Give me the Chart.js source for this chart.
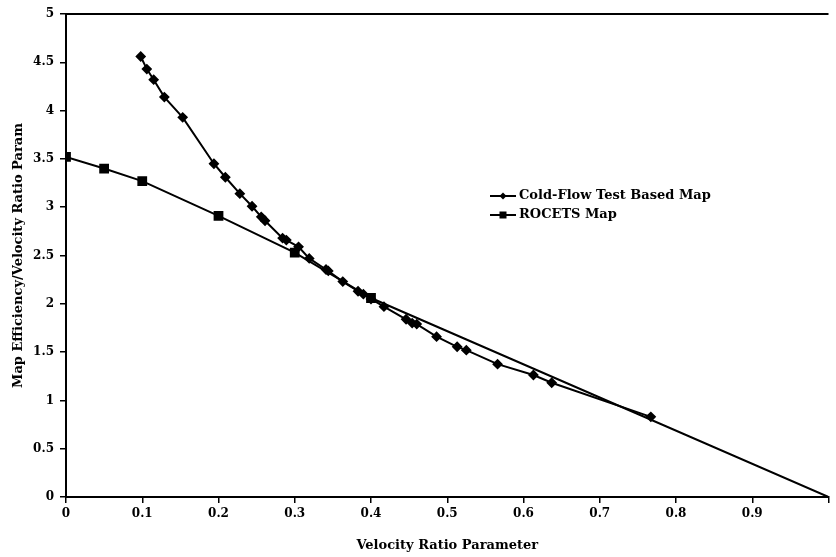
<!DOCTYPE html>
<html>
<head>
<meta charset="utf-8">
<script src="https://cdn.jsdelivr.net/npm/chart.js@4/dist/chart.umd.min.js"></script>
<style>
  html, body { margin: 0; padding: 0; background: #fff; }
  #wrap { width: 836px; height: 557px; }
</style>
</head>
<body>
<div id="wrap"><canvas id="mapChart"></canvas></div>
<script>
// Cold-Flow Test Based Map (velocity ratio, efficiency/VR)
const coldFlowX = [0.098, 0.106, 0.115, 0.129, 0.153, 0.194, 0.209, 0.228, 0.244, 0.256,
                   0.261, 0.284, 0.289, 0.305, 0.319, 0.341, 0.344, 0.363, 0.383, 0.390,
                   0.400, 0.417, 0.446, 0.454, 0.460, 0.486, 0.513, 0.525, 0.566, 0.613,
                   0.637, 0.767];
const coldFlowY = [4.56, 4.43, 4.32, 4.14, 3.93, 3.45, 3.31, 3.14, 3.01, 2.90,
                   2.86, 2.68, 2.66, 2.59, 2.47, 2.355, 2.34, 2.23, 2.13, 2.10,
                   2.05, 1.97, 1.84, 1.80, 1.79, 1.66, 1.555, 1.52, 1.375, 1.263,
                   1.183, 0.83];

// ROCETS Map
const rocetsX = [0, 0.05, 0.1, 0.2, 0.3, 0.4, 1.0];
const rocetsY = [3.52, 3.40, 3.27, 2.91, 2.53, 2.06, 0];

const xTicks = [0, 0.1, 0.2, 0.3, 0.4, 0.5, 0.6, 0.7, 0.8, 0.9];
const yTicks = [0, 0.5, 1, 1.5, 2, 2.5, 3, 3.5, 4, 4.5, 5];

const seriesLabels = ['Cold-Flow Test Based Map', 'ROCETS Map'];

const serif = "'DejaVu Serif', 'Liberation Serif', serif";

const toPoints = (xs, ys) => xs.map((x, i) => ({ x: x, y: ys[i] }));

// top frame line + legend drawn inside the plot
const frameLegend = {
    id: 'frameLegend',
    afterDraw(chart) {
        const { ctx, chartArea } = chart;
        ctx.save();
        ctx.strokeStyle = '#000';
        ctx.lineWidth = 2;
        ctx.beginPath();
        ctx.moveTo(chartArea.left, chartArea.top);
        ctx.lineTo(chartArea.right, chartArea.top);
        ctx.stroke();

        const rows = [196, 215];
        chart.data.datasets.forEach((ds, i) => {
            const y = rows[i];
            ctx.strokeStyle = '#000';
            ctx.lineWidth = 2;
            ctx.beginPath();
            ctx.moveTo(490, y);
            ctx.lineTo(516, y);
            ctx.stroke();
            ctx.fillStyle = '#000';
            ctx.beginPath();
            if (ds.pointStyle === 'rect') {
                ctx.rect(503 - 3.5, y - 3.5, 7, 7);
            } else {
                ctx.moveTo(503, y - 3.5);
                ctx.lineTo(506.5, y);
                ctx.lineTo(503, y + 3.5);
                ctx.lineTo(499.5, y);
                ctx.closePath();
            }
            ctx.fill();
            ctx.font = 'bold 13px ' + serif;
            ctx.textAlign = 'left';
            ctx.textBaseline = 'middle';
            ctx.fillText(ds.label, 519, y);
        });
        ctx.restore();
    }
};

const lastRocets = rocetsX.length - 1;

new Chart(document.getElementById('mapChart'), {
    type: 'scatter',
    data: {
        datasets: [{
            label: seriesLabels[0],
            data: toPoints(coldFlowX, coldFlowY),
            showLine: true,
            borderColor: '#000',
            backgroundColor: '#000',
            borderWidth: 2,
            pointStyle: 'rectRot',
            pointRadius: 4,
            tension: 0
        }, {
            label: seriesLabels[1],
            data: toPoints(rocetsX, rocetsY),
            showLine: true,
            borderColor: '#000',
            backgroundColor: '#000',
            borderWidth: 2,
            pointStyle: 'rect',
            pointRadius: ctx => ctx.dataIndex === lastRocets ? 0 : 5.5,
            tension: 0
        }]
    },
    options: {
        responsive: true,
        maintainAspectRatio: false,
        animation: false,
        layout: { padding: { top: 14, right: 1, left: 0, bottom: 0 } },
        plugins: {
            legend: { display: false },
            tooltip: { enabled: false }
        },
        scales: {
            x: {
                type: 'linear',
                min: 0,
                max: 1,
                afterBuildTicks: s => { s.ticks = xTicks.concat([1]).map(v => ({ value: v })); },
                afterFit: s => { s.height = 60; },
                border: { color: '#000', width: 2 },
                grid: { drawOnChartArea: false, color: '#000', tickLength: 6, lineWidth: 1.5 },
                ticks: {
                    color: '#000',
                    padding: 4,
                    maxRotation: 0,
                    font: { family: serif, size: 12, weight: 'bold' },
                    callback: v => xTicks.includes(v) ? String(v) : ''
                },
                title: {
                    display: true,
                    text: 'Velocity Ratio Parameter',
                    color: '#000',
                    padding: { top: 4, bottom: 4 },
                    font: { family: serif, size: 13, weight: 'bold' }
                }
            },
            y: {
                type: 'linear',
                min: 0,
                max: 5,
                afterBuildTicks: s => { s.ticks = yTicks.map(v => ({ value: v })); },
                afterFit: s => { s.width = 66; },
                border: { color: '#000', width: 2 },
                grid: { drawOnChartArea: false, color: '#000', tickLength: 6, lineWidth: 1.5 },
                ticks: {
                    color: '#000',
                    padding: 6,
                    font: { family: serif, size: 12, weight: 'bold' },
                    callback: v => String(v)
                },
                title: {
                    display: true,
                    text: 'Map Efficiency/Velocity Ratio Param',
                    color: '#000',
                    padding: { top: 11, bottom: 0 },
                    font: { family: serif, size: 13, weight: 'bold' }
                }
            }
        }
    },
    plugins: [frameLegend]
});
</script>
</body>
</html>
